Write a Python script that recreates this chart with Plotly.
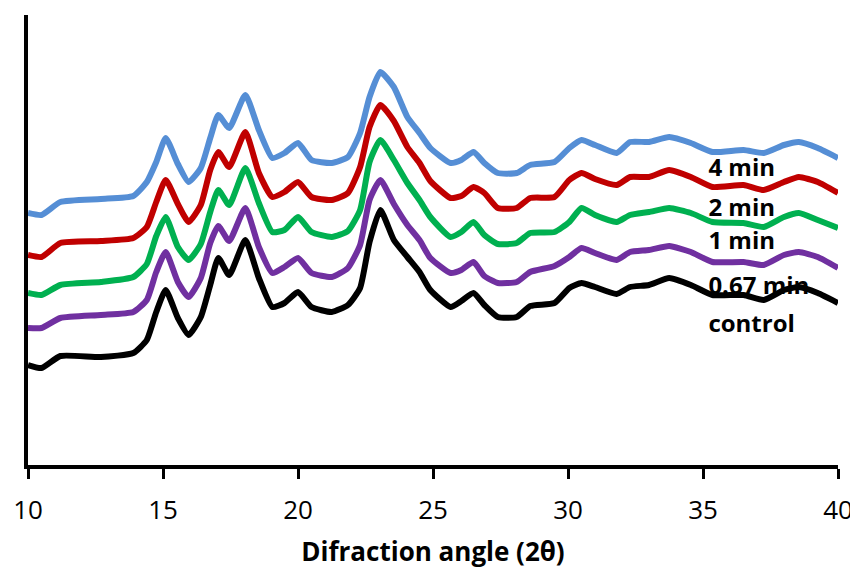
import plotly.graph_objects as go

two_theta = [10.0, 10.5, 11.2, 12.7, 13.9, 14.4, 14.75, 15.1, 15.55, 15.95,
             16.4, 16.75, 17.05, 17.45, 18.05, 18.55, 19.05, 19.5, 20.0, 20.5,
             21.25, 21.85, 22.3, 22.65, 23.05, 23.55, 24.05, 24.5, 24.9, 25.65,
             26.05, 26.5, 26.9, 27.4, 28.1, 28.6, 29.5, 30.05, 30.5, 31.0,
             31.8, 32.3, 33.0, 33.75, 34.55, 35.35, 36.5, 37.25, 38.0, 38.55,
             39.25, 40.0]

control = [100, 97, 109, 108, 112, 125, 153, 175, 147, 130,
           148, 180, 207, 190, 225, 187, 158, 162, 173, 158,
           153, 160, 177, 223, 255, 225, 208, 193, 175, 158,
           164, 172, 160, 148, 148, 159, 162, 177, 182, 178,
           171, 178, 180, 187, 180, 170, 170, 165, 175, 178,
           172, 162]

min_067 = [137, 137, 147, 150, 153, 165, 193, 213, 183, 168,
           187, 222, 239, 224, 257, 218, 192, 198, 207, 192,
           188, 197, 220, 265, 285, 261, 240, 225, 207, 192,
           195, 203, 189, 182, 183, 193, 199, 208, 217, 212,
           205, 213, 215, 219, 213, 203, 203, 200, 210, 213,
           208, 197]

min_1 = [172, 170, 180, 183, 188, 201, 229, 248, 218, 205,
         221, 253, 275, 260, 297, 262, 233, 235, 248, 233,
         228, 234, 255, 303, 325, 305, 282, 265, 248, 228,
         233, 243, 230, 221, 222, 232, 233, 243, 257, 250,
         243, 250, 253, 257, 252, 243, 242, 238, 248, 252,
         245, 237]

min_2 = [210, 208, 222, 224, 227, 238, 263, 285, 261, 243,
         260, 295, 313, 298, 333, 292, 268, 273, 283, 268,
         265, 272, 298, 338, 360, 344, 318, 302, 284, 267,
         269, 278, 272, 257, 257, 267, 268, 285, 292, 286,
         280, 288, 288, 295, 288, 278, 280, 275, 283, 288,
         283, 272]

min_4 = [252, 250, 263, 266, 269, 283, 303, 327, 301, 283,
         297, 327, 350, 337, 370, 335, 307, 312, 322, 305,
         302, 308, 332, 368, 393, 378, 348, 332, 317, 302,
         305, 313, 302, 292, 292, 300, 303, 317, 325, 320,
         312, 323, 323, 328, 322, 313, 315, 312, 320, 323,
         317, 307]

series_names = ["control", "0.67 min", "1 min", "2 min", "4 min"]
series_values = [control, min_067, min_1, min_2, min_4]
series_colors = ["#000000", "#7030A0", "#00B050", "#C00000", "#558ED5"]

label_x = [35.2, 35.2, 35.2, 35.2, 35.2]
label_y = [139, 177, 222, 255, 295]

x_ticks = [10, 15, 20, 25, 30, 35, 40]

fig = go.Figure()

# labels drawn first so the curves pass over them
fig.add_trace(go.Scatter(
    x=label_x, y=label_y, mode="text", text=series_names,
    textposition="middle right",
    textfont=dict(family="Open Sans", size=24, color="black", weight="bold"),
    showlegend=False, hoverinfo="skip", cliponaxis=False,
))

for name, vals, col in zip(series_names, series_values, series_colors):
    fig.add_trace(go.Scatter(
        x=two_theta, y=vals, mode="lines", name=name,
        line=dict(color=col, width=6, shape="spline", smoothing=0.5),
        showlegend=False,
    ))

# the page body adds an 8px offset, so the figure is sized to fit the window
fig.update_layout(
    width=850, height=564,
    margin=dict(l=20, r=20, t=7, b=107),
    paper_bgcolor="white", plot_bgcolor="white",
    showlegend=False,
)
fig.update_xaxes(
    range=[10, 40], tickvals=x_ticks, ticktext=[str(t) for t in x_ticks],
    showline=True, linewidth=4, linecolor="black",
    ticks="outside", ticklen=10, tickwidth=3, tickcolor="black",
    tickfont=dict(family="Open Sans", size=26, color="black"),
    ticklabelstandoff=9,
    showgrid=False, zeroline=False, automargin=False,
    title=dict(text="Difraction angle (2θ)", standoff=18,
               font=dict(family="Open Sans", size=26, color="black", weight="bold")),
)
fig.update_yaxes(
    range=[0, 450], showline=True, linewidth=4, linecolor="black",
    ticks="", showticklabels=False, showgrid=False, zeroline=False,
    automargin=False,
)

fig.write_html("out.html")
